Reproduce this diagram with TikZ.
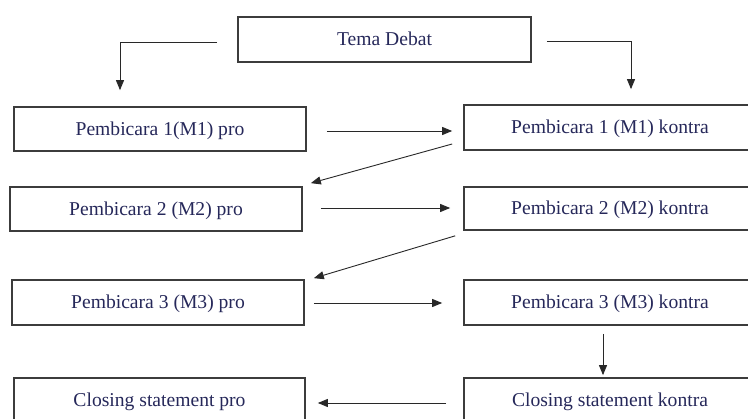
\documentclass[tikz,border=0pt]{standalone}
\usepackage{fontspec}
\setmainfont{Liberation Serif}
\usetikzlibrary{arrows.meta,calc}
\definecolor{txt}{RGB}{38,40,90}
\definecolor{edge}{RGB}{60,60,60}
\definecolor{arw}{RGB}{40,40,40}
\tikzset{
  box/.style={draw=edge,line width=1.7pt,minimum width=292pt,inner sep=0pt,
    text height=17pt,text depth=4pt,
    text=txt,font=\fontsize{19.6}{22}\selectfont},
  arr/.style={draw=arw,line width=0.9pt,-{Triangle[length=10pt,width=8pt]}}
}
\begin{document}
\begin{tikzpicture}[x=1pt,y=-1pt]
\useasboundingbox (0,0) rectangle (748,419);
\clip (0,0) rectangle (748,419);
\fill[white] (0,0) rectangle (748,419);
\node[box,minimum width=293pt,minimum height=45pt] (tema) at (384.5,39.5) {Tema Debat};
\node[box,minimum height=44pt] (p1) at (160,129) {Pembicara 1(M1) pro};
\node[box,minimum height=45pt] (k1) at (610,127.5) {Pembicara 1 (M1) kontra};
\node[box,minimum height=44pt] (p2) at (156,209) {Pembicara 2 (M2) pro};
\node[box,minimum height=43pt] (k2) at (610,208.5) {Pembicara 2 (M2) kontra};
\node[box,minimum height=45pt] (p3) at (158,302.5) {Pembicara 3 (M3) pro};
\node[box,minimum height=45pt] (k3) at (610,302.5) {Pembicara 3 (M3) kontra};
\node[box,minimum width=291pt,minimum height=44pt] (cp) at (159.5,400) {Closing statement pro};
\node[box,minimum height=44pt] (ck) at (610,400) {Closing statement kontra};
\draw[arr] ($(tema.west)+(-20,2.5)$) -| ($(p1.north)+(-40,-16)$);
\draw[arr] ($(tema.east)+(15,2)$) -| ($(k1.north)+(21,-15)$);
\draw[arr] ($(p1.east)+(20,2)$) -- ($(k1.west)+(-11,3.5)$);
\draw[arr] ($(k1.west)+(-11,16.5)$) -- ($(p2.north east)+(8,-3)$);
\draw[arr] ($(p2.east)+(18,-1)$) -- ($(k2.west)+(-13,-0.5)$);
\draw[arr] ($(k2.south west)+(-8,5)$) -- ($(p3.north east)+(9,-1)$);
\draw[arr] ($(p3.east)+(9,0.5)$) -- ($(k3.west)+(-21,0.5)$);
\draw[arr] ($(k3.south)+(-7,8)$) -- ($(ck.north)+(-7,-2)$);
\draw[arr] ($(ck.west)+(-17,3)$) -- ($(cp.east)+(12,3)$);
\end{tikzpicture}
\end{document}
